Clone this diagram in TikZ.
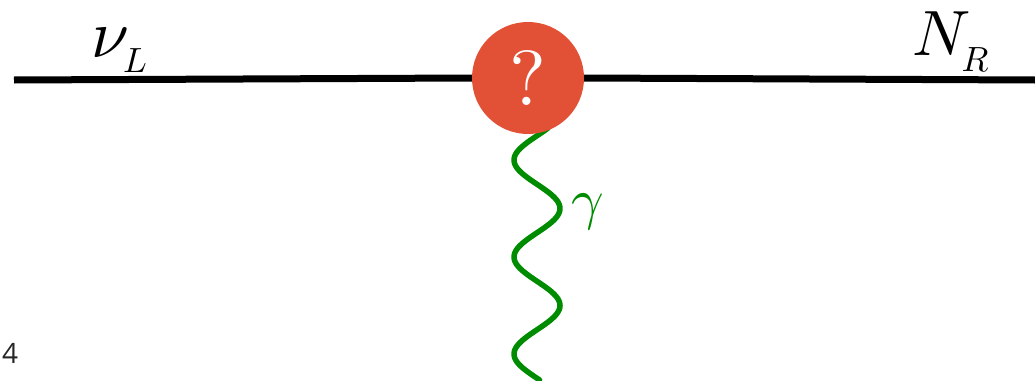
\documentclass[tikz,border=0pt]{standalone}
\usepackage{graphicx}
\usepackage{fontspec}
\newfontfamily\numfont{Open Sans}
\definecolor{qred}{RGB}{226,80,54}
\definecolor{pgreen}{RGB}{0,140,0}
\begin{document}
\begin{tikzpicture}[x=1pt,y=-1pt,
  lbl/.style={inner sep=0pt, anchor=base west},
  fermion/.style={line width=7pt},
  photon/.style={pgreen, line width=5.5pt, line cap=round},
  blob/.style={circle, fill=qred, minimum size=112pt, inner sep=0pt, text=white}]
\useasboundingbox (0,0) rectangle (1035,380);
\coordinate (lstart) at (14,80);
\coordinate (rend) at (1035,80);
\draw[photon] plot[domain=128:380,samples=150] ({537-23*cos(3.7113*(\x-160))},\x);
\node[blob] (q) at (528,78) {\scalebox{7.8}{?}};
\draw[fermion] (lstart) -- (q.west);
\draw[fermion] (q.east) -- (rend);
\node[lbl] (nuL) at (91,57) {\scalebox{6.8}{$\nu$}\hspace{-6pt}\raisebox{-15pt}{\scalebox{3.5}{$L$}}};
\node[lbl] (NR) at (912,55) {\scalebox{6.4}{$N$}\hspace{-9pt}\raisebox{-17pt}{\scalebox{3.5}{$R$}}};
\node[lbl, text=pgreen] (gam) at (571,218) {\scalebox{5.7}{$\gamma$}};
\node[lbl, text=black!85] (four) at (2,363) {\numfont\fontsize{28}{28}\selectfont 4};
\end{tikzpicture}
\end{document}
